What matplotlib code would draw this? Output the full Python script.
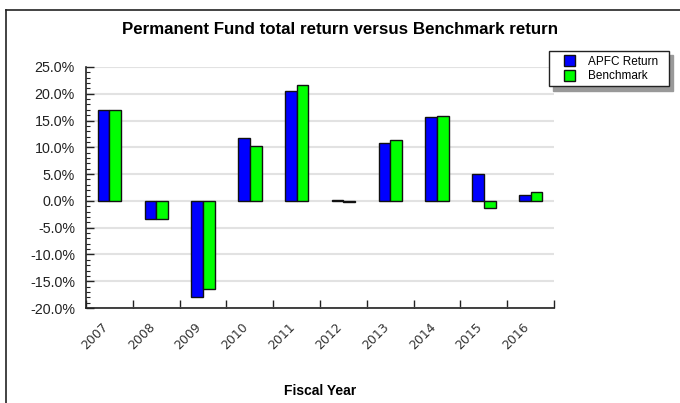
import matplotlib
matplotlib.use("Agg")
import matplotlib.pyplot as plt
import matplotlib.patches as mpatches
from matplotlib.legend_handler import HandlerPatch
from matplotlib.lines import Line2D
from matplotlib.ticker import MultipleLocator, FuncFormatter, FixedLocator
from matplotlib.transforms import ScaledTranslation

# データ
years = ["2007", "2008", "2009", "2010", "2011", "2012", "2013", "2014", "2015", "2016"]
apfc_return = [17.0, -3.4, -17.9, 11.8, 20.5, 0.1, 10.9, 15.6, 5.0, 1.1]
benchmark = [17.0, -3.4, -16.5, 10.3, 21.6, -0.3, 11.4, 15.8, -1.3, 1.7]

W, H = 680, 403
fig = plt.figure(figsize=(W / 100, H / 100), dpi=100)
ax = fig.add_axes([86 / W, 1 - 308 / H, (554 - 86) / W, (308 - 67) / H])

x = list(range(len(years)))
bw = 0.25
ax.bar([i - bw / 2 for i in x], apfc_return, width=bw, color="#0000ff",
       edgecolor="#111111", linewidth=1, zorder=3)
ax.bar([i + bw / 2 for i in x], benchmark, width=bw, color="#00ff00",
       edgecolor="#111111", linewidth=1, zorder=3)

ax.set_xlim(-0.5, len(years) - 0.5)
ax.set_ylim(-20, 25)

# 軸
for s in ["top", "right"]:
    ax.spines[s].set_visible(False)
for s in ["left", "bottom"]:
    ax.spines[s].set_color("#222222")
    ax.spines[s].set_linewidth(1.2)

ax.yaxis.set_major_locator(MultipleLocator(5))
ax.yaxis.set_minor_locator(MultipleLocator(1))
ax.yaxis.set_major_formatter(FuncFormatter(lambda v, p: f"{v:.1f}%"))
ax.tick_params(axis="y", which="major", direction="in", length=6, width=1,
               labelsize=10.3, pad=8, colors="#222222")
ax.tick_params(axis="y", which="minor", direction="in", length=3, width=0.8,
               colors="#222222")
for lab in ax.get_yticklabels():
    lab.set_family("Liberation Sans")

ax.xaxis.set_major_locator(FixedLocator(x))
ax.xaxis.set_minor_locator(FixedLocator([i - 0.5 for i in x] + [len(x) - 0.5]))
ax.set_xticklabels(years, rotation=45, ha="right", rotation_mode="anchor",
                   fontsize=9, color="#333333")
ax.tick_params(axis="x", which="major", length=0, pad=9)
ax.tick_params(axis="x", which="minor", direction="in", length=6, width=1,
               colors="#222222")
shift = ScaledTranslation(-8 / 100, 0, fig.dpi_scale_trans)
for lab in ax.get_xticklabels():
    lab.set_transform(lab.get_transform() + shift)

ax.grid(axis="y", which="major", color="#e2e2e2", linewidth=1.5, zorder=0)
ax.set_axisbelow(True)

ax.set_xlabel("Fiscal Year", fontsize=10, fontweight="bold",
              family="Liberation Sans", labelpad=23)

fig.text(340 / W, 1 - 30 / H, "Permanent Fund total return versus Benchmark return",
         ha="center", va="center", fontsize=12.2, fontweight="bold",
         family="Liberation Sans")


# 凡例（四角を右寄せにして左に余白）
def square(legend, orig_handle, xdescent, ydescent, width, height, fontsize):
    s = height
    return mpatches.Rectangle((width - s - xdescent, -ydescent), s, s)


handles = [mpatches.Patch(facecolor="#0000ff", edgecolor="#111111", linewidth=1),
           mpatches.Patch(facecolor="#00ff00", edgecolor="#111111", linewidth=1)]
leg = ax.legend(handles, ["APFC Return  ", "Benchmark  "],
                loc="upper right", bbox_to_anchor=(669 / W, 1 - 51 / H),
                bbox_transform=fig.transFigure, borderaxespad=0,
                fancybox=False, edgecolor="#222222", framealpha=1,
                prop={"family": "Liberation Sans", "size": 8.5},
                handlelength=1.9, handleheight=1.1, handletextpad=1.1,
                borderpad=0.35, labelspacing=0.15,
                handler_map={mpatches.Patch: HandlerPatch(patch_func=square)},
                shadow={"color": "#999999", "alpha": 1, "ox": 3, "oy": -3})
leg.get_frame().set_linewidth(1)

# 外枠
fig.add_artist(Line2D([6 / W, 1], [1 - 10 / H, 1 - 10 / H], color="#222222",
                      linewidth=1.2, transform=fig.transFigure))
fig.add_artist(Line2D([6 / W, 6 / W], [0, 1 - 10 / H], color="#222222",
                      linewidth=1.2, transform=fig.transFigure))

fig.savefig("out.png", dpi=100)
